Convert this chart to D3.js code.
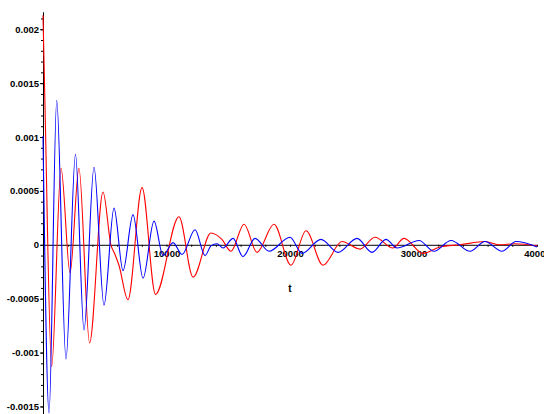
<!DOCTYPE html>
<meta charset="utf-8">
<style>
body { margin: 0; background: #fff; }
svg { display: block; }
.axis text { font-family: "Liberation Sans", Arial, sans-serif; font-weight: bold; font-size: 9.5px; fill: #000; }
.axis line, .axis path { stroke: #000; }
.label { font-family: "Liberation Sans", Arial, sans-serif; font-weight: bold; font-size: 10px; }
</style>
<script src="https://d3js.org/d3.v7.min.js"></script>
<body>
<svg id="chart" width="544" height="414"></svg>
<script>
// [t, value]: peaks, troughs and a few shoulders
var redPoints = [
  [0, 0.00213], [160, 0.0013], [700, -0.00113], [1460, 0.00071], [2190, -0.00026],
  [2910, 0.00071], [3770, -0.00091], [4860, 0.00049], [5500, 0], [5830, -0.00009],
  [6150, -0.00019], [6880, -0.00051], [8020, 0.00053], [9110, -0.00046], [11010, 0.00026],
  [12150, -0.0003], [13600, 0.00011], [14490, 0.00005], [15220, -0.00006], [16280, 0.00019],
  [17330, -0.00007], [18700, 0.00019], [20080, -0.00019], [21300, 0.00013], [22670, -0.00019],
  [24210, 0.00003], [25670, -0.00004], [26880, 0.00007], [28340, -0.00003], [29230, 0.00006],
  [30770, -0.00008], [32150, -0.00002], [33770, 0], [35790, 0.00003], [37000, 0],
  [38220, 0.00001], [40000, -0.00001]
];
var bluePoints = [
  [0, 0.00101], [490, -0.00156], [1110, 0.00134], [1860, -0.00106], [2630, 0.00084],
  [3320, -0.00079], [4130, 0.00072], [4940, -0.00056], [5750, 0.00034], [6480, -0.00024],
  [7290, 0.00028], [8100, -0.00031], [8990, 0.00022], [9720, -0.0001], [10530, 0.00002],
  [11260, -0.00009], [12310, 0.00014], [13120, -0.0001], [13600, -0.00001], [14090, 0.00001],
  [14580, -0.00003], [15390, 0.00006], [16190, -0.00011], [17170, 0.00006], [18300, -0.00006],
  [20000, 0.00007], [20970, -0.00008], [22510, 0.00005], [23890, -0.00007], [25430, 0.00006],
  [26640, -0.00007], [27770, 0.00005], [28660, -0.00003], [30450, 0.00004], [31660, -0.00006],
  [33040, 0.00004], [34580, -0.00006], [35790, 0.00003], [37170, -0.00006], [38300, 0.00003],
  [40000, -0.00002]
];
var yMajorTicks = [-0.0015, -0.001, -0.0005, 0, 0.0005, 0.001, 0.0015, 0.002];
var yTickLabels = ["-0.0015", "-0.001", "-0.0005", "0", "0.0005", "0.001", "0.0015", "0.002"];
var yMinorTicks = d3.range(-15, 22).map(function(i) { return i / 10000; });
var xTicks = d3.range(2000, 40001, 2000);
var xTickLabels = {10000: "10000", 20000: "20000", 30000: "30000", 40000: "40000"};

var svg = d3.select("#chart");

var x = d3.scaleLinear().domain([0, 40000]).range([43, 537]);
var y = d3.scaleLinear().domain([-0.00157, 0.00216]).range([414, 12]);

// y axis
svg.append("g").attr("class", "axis")
  .attr("transform", "translate(" + x(0) + ",0)")
  .call(d3.axisLeft(y).tickValues(yMinorTicks).tickSize(2).tickSizeOuter(0).tickFormat(""));
svg.append("g").attr("class", "axis")
  .attr("transform", "translate(" + x(0) + ",0)")
  .call(d3.axisLeft(y).tickValues(yMajorTicks).tickSize(3).tickSizeOuter(0).tickPadding(1)
    .tickFormat(function(d, i) { return yTickLabels[i]; }));

// x axis
svg.append("g").attr("class", "axis")
  .attr("transform", "translate(0," + y(0) + ")")
  .call(d3.axisBottom(x).tickValues(xTicks).tickSize(2).tickSizeOuter(0).tickPadding(3)
    .tickFormat(function(d) { return xTickLabels[d] || ""; }));

svg.append("text").attr("class", "label")
  .attr("x", x(20000)).attr("y", 292).attr("text-anchor", "middle").text("t");

var line = d3.line()
  .x(function(d) { return x(d[0]); })
  .y(function(d) { return y(d[1]); })
  .curve(d3.curveMonotoneX);

svg.append("path").datum(redPoints).attr("d", line)
  .attr("fill", "none").attr("stroke", "#ff0000").attr("stroke-width", 1.1);
svg.append("path").datum(bluePoints).attr("d", line)
  .attr("fill", "none").attr("stroke", "#0000ff").attr("stroke-width", 1.1);
</script>
</body>
